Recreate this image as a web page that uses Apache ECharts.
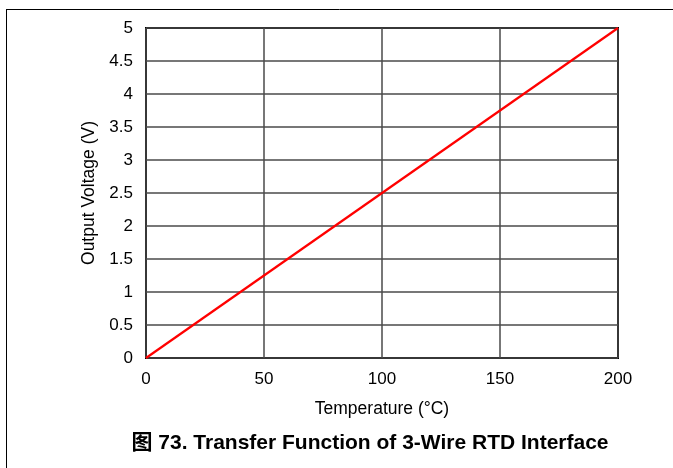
<!DOCTYPE html>
<html>
<head>
<meta charset="utf-8">
<script src="https://cdn.jsdelivr.net/npm/echarts@6/dist/echarts.min.js"></script>
<style>html,body{margin:0;padding:0;background:#fff;}#c{width:673px;height:468px;}</style>
</head>
<body>
<div id="c"></div>
<script>
const temperature = [0, 200];
const voltage = [0, 5];
const xTicks = [0, 50, 100, 150, 200];
const yTicks = [0, 0.5, 1, 1.5, 2, 2.5, 3, 3.5, 4, 4.5, 5];
const titleText = '图 73. Transfer Function of 3-Wire RTD Interface';
const xName = 'Temperature (°C)';
const yName = 'Output Voltage (V)';

const chart = echarts.init(document.getElementById('c'), null, {renderer: 'canvas'});
const font = 'Liberation Sans, Arial, sans-serif';
chart.setOption({
  animation: false,
  backgroundColor: '#fff',
  title: {
    text: titleText, left: 365, top: 428, textAlign: 'center',
    textStyle: {fontFamily: 'Liberation Sans, Arial, Noto Sans CJK SC, sans-serif', fontSize: 21, fontWeight: 'bold', color: '#000'}
  },
  grid: {left: 146, top: 28, width: 472, height: 330, show: true, borderColor: '#000', borderWidth: 2, backgroundColor: 'transparent'},
  xAxis: {
    type: 'value', min: xTicks[0], max: xTicks[xTicks.length-1], interval: 50,
    name: xName, nameLocation: 'middle', nameGap: 42,
    nameTextStyle: {fontFamily: font, fontSize: 17.5, color: '#000'},
    axisLine: {show: false}, axisTick: {show: false},
    axisLabel: {fontFamily: font, fontSize: 17, color: '#000', margin: 13},
    splitLine: {show: true, lineStyle: {color: '#4a4a4a', width: 1.5}}
  },
  yAxis: {
    type: 'value', min: yTicks[0], max: yTicks[yTicks.length-1], interval: 0.5,
    name: yName, nameLocation: 'middle', nameGap: 44,
    nameTextStyle: {fontFamily: font, fontSize: 17.5, color: '#000'},
    axisLine: {show: false}, axisTick: {show: false},
    axisLabel: {fontFamily: font, fontSize: 17, color: '#000', margin: 13},
    splitLine: {show: true, lineStyle: {color: '#4a4a4a', width: 1.5}}
  },
  series: [{
    type: 'line', data: temperature.map((t, i) => [t, voltage[i]]),
    showSymbol: false, lineStyle: {color: '#ff0000', width: 2.2}, z: 5
  }],
  graphic: [
    {type: 'line', shape: {x1: 6, y1: 9.5, x2: 673, y2: 9.5}, style: {stroke: '#000', lineWidth: 1}},
    {type: 'line', shape: {x1: 6.5, y1: 9, x2: 6.5, y2: 468}, style: {stroke: '#000', lineWidth: 1}}
  ]
});
</script>
</body>
</html>
